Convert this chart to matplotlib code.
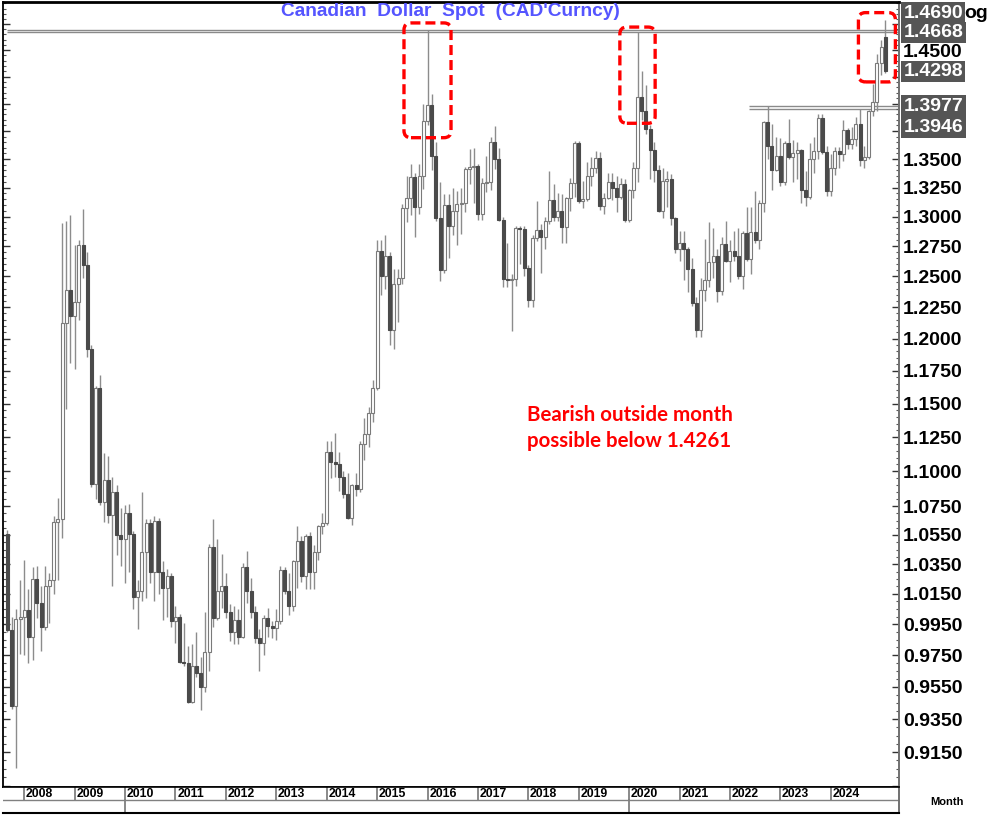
import matplotlib
matplotlib.use("Agg")
import matplotlib.pyplot as plt
from matplotlib.patches import FancyBboxPatch
from matplotlib.transforms import IdentityTransform, blended_transform_factory
from matplotlib.ticker import FixedLocator, NullFormatter
import numpy as np
import pandas as pd

plt.rcParams['font.family'] = ['Liberation Sans', 'DejaVu Sans']

# ---------------- data: USD/CAD monthly candles, Sep 2007 .. Feb 2025 ----------------
months = pd.date_range("2007-09-01", "2025-02-01", freq="MS")

opens = [
    1.0555, 0.9915, 0.9430, 0.9985,                                                        # 2007
    1.0000, 1.0045, 0.9865, 1.0250, 1.0090, 0.9935, 1.0200, 1.0245, 1.0640, 1.0660, 1.2120, 1.2390,  # 2008
    1.2180, 1.2290, 1.2760, 1.2590, 1.1920, 1.0910, 1.1620, 1.0780, 1.0940, 1.0690, 1.0850, 1.0550,  # 2009
    1.0520, 1.0700, 1.0560, 1.0130, 1.0170, 1.0430, 1.0630, 1.0300, 1.0650, 1.0300, 1.0190, 1.0270,  # 2010
    0.9970, 1.0000, 0.9710, 0.9700, 0.9455, 0.9680, 0.9640, 0.9550, 0.9770, 1.0470, 0.9990, 1.0170,  # 2011
    1.0200, 1.0030, 0.9900, 0.9980, 0.9870, 1.0330, 1.0170, 1.0030, 0.9860, 0.9830, 0.9990, 0.9940,  # 2012
    0.9925, 0.9970, 1.0310, 1.0170, 1.0070, 1.0370, 1.0510, 1.0270, 1.0540, 1.0300, 1.0430, 1.0610,  # 2013
    1.0630, 1.1140, 1.1070, 1.1050, 1.0960, 1.0840, 1.0670, 1.0900, 1.0870, 1.1200, 1.1270, 1.1430,  # 2014
    1.1620, 1.2710, 1.2500, 1.2670, 1.2070, 1.2440, 1.2490, 1.3070, 1.3160, 1.3340, 1.3080, 1.3350,  # 2015
    1.3840, 1.3990, 1.3530, 1.2990, 1.2550, 1.3100, 1.2920, 1.3050, 1.3110, 1.3120, 1.3410, 1.3430,  # 2016
    1.3440, 1.3020, 1.3290, 1.3300, 1.3650, 1.3500, 1.2970, 1.2480, 1.2470, 1.2480, 1.2900, 1.2895,  # 2017
    1.2570, 1.2310, 1.2820, 1.2890, 1.2830, 1.2960, 1.3140, 1.3000, 1.3050, 1.2910, 1.3160, 1.3290,  # 2018
    1.3640, 1.3130, 1.3150, 1.3350, 1.3420, 1.3510, 1.3090, 1.3160, 1.3300, 1.3250, 1.3170, 1.3280,  # 2019
    1.2970, 1.3230, 1.3420, 1.4060, 1.3930, 1.3770, 1.3580, 1.3400, 1.3050, 1.3310, 1.3320, 1.2990,  # 2020
    1.2730, 1.2780, 1.2730, 1.2560, 1.2280, 1.2070, 1.2390, 1.2470, 1.2620, 1.2670, 1.2380, 1.2770,  # 2021
    1.2630, 1.2710, 1.2670, 1.2500, 1.2860, 1.2640, 1.2870, 1.2800, 1.3120, 1.3830, 1.3620, 1.3400,  # 2022
    1.3530, 1.3300, 1.3640, 1.3520, 1.3550, 1.3580, 1.3230, 1.3170, 1.3500, 1.3570, 1.3870, 1.3560,  # 2023
    1.3220, 1.3420, 1.3570, 1.3540, 1.3760, 1.3630, 1.3680, 1.3810, 1.3490, 1.3520, 1.3930, 1.4010,  # 2024
    1.4380, 1.4620,                                                                        # 2025
]
highs = [
    1.0585, 1.0000, 1.0050, 1.0240,
    1.0380, 1.0184, 1.0330, 1.0340, 1.0200, 1.0340, 1.0290, 1.0680, 1.0810, 1.2945, 1.2960, 1.3017,
    1.2760, 1.2800, 1.3066, 1.2700, 1.1950, 1.1630, 1.1720, 1.1130, 1.1110, 1.0960, 1.0900, 1.0740,
    1.0760, 1.0770, 1.0580, 1.0240, 1.0855, 1.0660, 1.0660, 1.0680, 1.0670, 1.0370, 1.0320, 1.0290,
    1.0070, 1.0020, 0.9960, 0.9810, 0.9820, 0.9900, 0.9740, 1.0030, 1.0490, 1.0660, 1.0520, 1.0420,
    1.0290, 1.0080, 1.0070, 1.0050, 1.0360, 1.0440, 1.0260, 1.0070, 0.9920, 1.0010, 1.0060, 0.9970,
    1.0050, 1.0340, 1.0330, 1.0290, 1.0380, 1.0610, 1.0540, 1.0560, 1.0570, 1.0480, 1.0620, 1.0700,
    1.1220, 1.1220, 1.1280, 1.1140, 1.1000, 1.0990, 1.0910, 1.0990, 1.1220, 1.1390, 1.1470, 1.1680,
    1.2800, 1.2800, 1.2840, 1.2700, 1.2560, 1.2560, 1.3110, 1.3350, 1.3460, 1.3380, 1.3460, 1.4000,
    1.4690, 1.4090, 1.3650, 1.3300, 1.3190, 1.3190, 1.3250, 1.3220, 1.3250, 1.3430, 1.3590, 1.3600,
    1.3460, 1.3330, 1.3530, 1.3700, 1.3793, 1.3600, 1.3000, 1.2780, 1.2520, 1.2920, 1.2920, 1.2920,
    1.2590, 1.2840, 1.3130, 1.2940, 1.3000, 1.3390, 1.3280, 1.3200, 1.3190, 1.3170, 1.3330, 1.3660,
    1.3660, 1.3310, 1.3470, 1.3520, 1.3570, 1.3560, 1.3200, 1.3380, 1.3380, 1.3350, 1.3330, 1.3320,
    1.3240, 1.3470, 1.4668, 1.4300, 1.4170, 1.3800, 1.3650, 1.3450, 1.3420, 1.3390, 1.3370, 1.3000,
    1.2880, 1.2880, 1.2740, 1.2650, 1.2330, 1.2490, 1.2810, 1.2950, 1.2900, 1.2730, 1.2830, 1.2960,
    1.2800, 1.2880, 1.2900, 1.2880, 1.3080, 1.3080, 1.3220, 1.3140, 1.3840, 1.3977, 1.3810, 1.3700,
    1.3690, 1.3660, 1.3860, 1.3670, 1.3650, 1.3590, 1.3390, 1.3640, 1.3700, 1.3900, 1.3900, 1.3620,
    1.3540, 1.3610, 1.3610, 1.3850, 1.3780, 1.3790, 1.3880, 1.3946, 1.3620, 1.3940, 1.4180, 1.4467,
    1.4600, 1.4793,
]
lows = [
    0.9900, 0.9410, 0.9056, 0.9760,
    0.9750, 0.9700, 0.9720, 0.9990, 0.9780, 0.9910, 0.9960, 1.0150, 1.0240, 1.0530, 1.1460, 1.1810,
    1.1760, 1.2150, 1.2490, 1.1860, 1.0890, 1.0800, 1.0760, 1.0640, 1.0630, 1.0206, 1.0410, 1.0340,
    1.0220, 1.0300, 1.0050, 0.9920, 1.0100, 1.0120, 1.0220, 1.0100, 1.0150, 0.9980, 1.0000, 0.9930,
    0.9830, 0.9700, 0.9680, 0.9450, 0.9450, 0.9610, 0.9405, 0.9520, 0.9650, 0.9930, 0.9980, 1.0060,
    0.9990, 0.9840, 0.9820, 0.9820, 0.9860, 1.0090, 0.9990, 0.9830, 0.9650, 0.9750, 0.9870, 0.9860,
    0.9850, 0.9950, 1.0150, 1.0010, 1.0040, 1.0190, 1.0230, 1.0180, 1.0180, 1.0180, 1.0380, 1.0560,
    1.0620, 1.0950, 1.0960, 1.0860, 1.0810, 1.0660, 1.0620, 1.0820, 1.0850, 1.1080, 1.1180, 1.1360,
    1.1600, 1.2350, 1.2400, 1.1950, 1.1920, 1.2130, 1.2440, 1.2950, 1.3010, 1.2830, 1.3020, 1.3240,
    1.3800, 1.3400, 1.2960, 1.2460, 1.2530, 1.2650, 1.2840, 1.2760, 1.2850, 1.3040, 1.3280, 1.3120,
    1.2970, 1.2970, 1.3210, 1.3230, 1.3410, 1.2960, 1.2410, 1.2410, 1.2061, 1.2420, 1.2600, 1.2500,
    1.2250, 1.2250, 1.2790, 1.2530, 1.2730, 1.2940, 1.2960, 1.2960, 1.2780, 1.2780, 1.3050, 1.3170,
    1.3120, 1.3070, 1.3130, 1.3260, 1.3380, 1.3060, 1.3020, 1.3150, 1.3140, 1.3040, 1.3150, 1.2950,
    1.2950, 1.3160, 1.3300, 1.3850, 1.3720, 1.3320, 1.3300, 1.3040, 1.2990, 1.3080, 1.2930, 1.2690,
    1.2630, 1.2470, 1.2370, 1.2260, 1.2010, 1.2010, 1.2300, 1.2410, 1.2490, 1.2290, 1.2350, 1.2620,
    1.2450, 1.2630, 1.2480, 1.2400, 1.2630, 1.2520, 1.2780, 1.2730, 1.3040, 1.3500, 1.3230, 1.3390,
    1.3260, 1.3270, 1.3500, 1.3300, 1.3320, 1.3120, 1.3090, 1.3150, 1.3380, 1.3500, 1.3540, 1.3180,
    1.3180, 1.3360, 1.3420, 1.3480, 1.3590, 1.3590, 1.3620, 1.3440, 1.3420, 1.3500, 1.3890, 1.3930,
    1.4261, 1.4280,
]
closes = [
    0.9915, 0.9430, 0.9985, 1.0000,
    1.0045, 0.9865, 1.0250, 1.0090, 0.9935, 1.0200, 1.0245, 1.0640, 1.0660, 1.2120, 1.2390, 1.2180,
    1.2290, 1.2760, 1.2590, 1.1920, 1.0910, 1.1620, 1.0780, 1.0940, 1.0690, 1.0850, 1.0550, 1.0520,
    1.0700, 1.0560, 1.0130, 1.0170, 1.0430, 1.0630, 1.0300, 1.0650, 1.0300, 1.0190, 1.0270, 0.9970,
    1.0000, 0.9710, 0.9700, 0.9455, 0.9680, 0.9640, 0.9550, 0.9770, 1.0470, 0.9990, 1.0170, 1.0200,
    1.0030, 0.9900, 0.9980, 0.9870, 1.0330, 1.0170, 1.0030, 0.9860, 0.9830, 0.9990, 0.9940, 0.9925,
    0.9970, 1.0310, 1.0170, 1.0070, 1.0370, 1.0510, 1.0270, 1.0540, 1.0300, 1.0430, 1.0610, 1.0630,
    1.1140, 1.1070, 1.1050, 1.0960, 1.0840, 1.0670, 1.0900, 1.0870, 1.1200, 1.1270, 1.1430, 1.1620,
    1.2710, 1.2500, 1.2670, 1.2070, 1.2440, 1.2490, 1.3070, 1.3160, 1.3340, 1.3080, 1.3350, 1.3840,
    1.3990, 1.3530, 1.2990, 1.2550, 1.3100, 1.2920, 1.3050, 1.3110, 1.3120, 1.3410, 1.3430, 1.3440,
    1.3020, 1.3290, 1.3300, 1.3650, 1.3500, 1.2970, 1.2480, 1.2470, 1.2480, 1.2900, 1.2895, 1.2570,
    1.2310, 1.2820, 1.2890, 1.2830, 1.2960, 1.3140, 1.3000, 1.3050, 1.2910, 1.3160, 1.3290, 1.3640,
    1.3130, 1.3150, 1.3350, 1.3420, 1.3510, 1.3090, 1.3160, 1.3300, 1.3250, 1.3170, 1.3280, 1.2970,
    1.3230, 1.3420, 1.4060, 1.3930, 1.3770, 1.3580, 1.3400, 1.3050, 1.3310, 1.3320, 1.2990, 1.2730,
    1.2780, 1.2730, 1.2560, 1.2280, 1.2070, 1.2390, 1.2470, 1.2620, 1.2670, 1.2380, 1.2770, 1.2630,
    1.2710, 1.2670, 1.2500, 1.2860, 1.2640, 1.2870, 1.2800, 1.3120, 1.3830, 1.3620, 1.3400, 1.3530,
    1.3300, 1.3640, 1.3520, 1.3550, 1.3580, 1.3230, 1.3170, 1.3500, 1.3570, 1.3870, 1.3560, 1.3220,
    1.3420, 1.3570, 1.3540, 1.3760, 1.3630, 1.3680, 1.3810, 1.3490, 1.3520, 1.3930, 1.4010, 1.4380,
    1.4530, 1.4298,
]

# right-axis ticks / labels
tick_values = [1.475, 1.45, 1.425, 1.40, 1.375, 1.35, 1.325, 1.30, 1.275, 1.25, 1.225, 1.20,
               1.175, 1.15, 1.125, 1.10, 1.075, 1.055, 1.035, 1.015, 0.995, 0.975, 0.955,
               0.935, 0.915, 0.895]
labelled_values = [1.45, 1.35, 1.325, 1.30, 1.275, 1.25, 1.225, 1.20, 1.175, 1.15, 1.125,
                   1.10, 1.075, 1.055, 1.035, 1.015, 0.995, 0.975, 0.955, 0.935, 0.915]

# highlighted levels (value, vertical shift of its tag in px)
level_values = [1.4690, 1.4668, 1.4298, 1.3977, 1.3946]
level_tag_shift = [17, 0, 0, 0, -18]
long_lines = [1.4690, 1.4668]      # 2016 / 2020 highs
short_lines = [1.3977, 1.3946]     # Oct-2022 / Aug-2024 highs
short_line_start = pd.Timestamp("2022-05-01")

# highlighted candle groups (centre month, half width in months, top, bottom)
box_centres = ["2016-01-01", "2020-03-01", "2024-12-01"]
box_half = [5.6, 4.2, 4.4]
box_top = [1.476, 1.472, 1.486]
box_bottom = [1.369, 1.382, 1.420]

title = "Canadian  Dollar  Spot  (CAD'Curncy)"
note = "Bearish outside month\npossible below 1.4261"

# ---------------- figure ----------------
W, H = 990, 815
fig = plt.figure(figsize=(W / 100, H / 100), dpi=100)
ax = fig.add_axes([3 / W, 28 / H, 896 / W, 785 / H])

idx = np.arange(len(months))
o = np.array(opens); h = np.array(highs); l = np.array(lows); c = np.array(closes)
up = c >= o

ax.set_yscale('log')
ax.set_ylim(0.8943, 1.4964)
ax.set_xlim(-1.07, 212.26)

ax.vlines(idx, l, h, color='#8c8c8c', lw=1.0, zorder=2)
ax.bar(idx[up], (c - o)[up], bottom=o[up], width=0.72, color='white',
       edgecolor='#7a7a7a', linewidth=0.8, zorder=3)
ax.bar(idx[~up], (o - c)[~up], bottom=c[~up], width=0.72, color='#4a4a4a',
       edgecolor='#4a4a4a', linewidth=0.8, zorder=3)

xr = ax.get_xlim()[1]
ax.hlines(long_lines, -0.2, xr, color='#8a8a8a', lw=1.0, zorder=1)
s_idx = months.get_loc(short_line_start) + 0.6
ax.hlines(short_lines, s_idx, xr, color='#8a8a8a', lw=1.0, zorder=1)

# axes styling
ax.set_xticks([])
ax.yaxis.set_major_locator(FixedLocator(tick_values))
ax.set_yticklabels([f"{v:.4f}" if v in labelled_values else "" for v in tick_values])
minor_vals = [round(v, 3) for v in np.arange(0.895, 1.4951, 0.005)]
ax.yaxis.set_minor_locator(FixedLocator(minor_vals))
ax.yaxis.set_minor_formatter(NullFormatter())
ax.tick_params(axis='y', which='major', left=True, right=True, labelleft=False,
               labelright=True, direction='in', length=5, width=1, color='#333333',
               pad=3, labelsize=14)
ax.tick_params(axis='y', which='minor', left=True, right=True, direction='in',
               length=2, width=0.8, color='#555555')
for lab in ax.get_yticklabels():
    lab.set_fontweight('bold')
for side, col, lw in [('left', 'black', 1.3), ('top', 'black', 2.0),
                      ('right', '#707070', 1.4), ('bottom', 'black', 1.2)]:
    ax.spines[side].set_color(col)
    ax.spines[side].set_linewidth(lw)

# level tags
tr = blended_transform_factory(ax.transAxes, ax.transData)
for v, sh in zip(level_values, level_tag_shift):
    ax.annotate(f"{v:.4f}", xy=(1, v), xycoords=tr, xytext=(3.2, sh * 0.72),
                textcoords='offset points', ha='left', va='center', color='white',
                fontsize=14, fontweight='bold', annotation_clip=False, zorder=10,
                bbox=dict(boxstyle='square,pad=0.12', fc='#555555', ec='none'))
fig.text(964 / W, 1 - 13 / H, "og", ha='left', va='center', fontsize=14,
         fontweight='bold', color='black')

# red dashed boxes
for cm, hw, tp, bt in zip(box_centres, box_half, box_top, box_bottom):
    ci = months.get_loc(pd.Timestamp(cm))
    x0, y0 = ax.transData.transform((ci - hw, bt))
    x1, y1 = ax.transData.transform((ci + hw, tp))
    p = FancyBboxPatch((x0, y0), x1 - x0, y1 - y0,
                       boxstyle='round,pad=0,rounding_size=7', fill=False,
                       ec='#ff0000', lw=2.4, ls=(0, (3.0, 1.5)),
                       transform=IdentityTransform(), zorder=20)
    fig.add_artist(p)

# title and note
fig.text(450 / W, 1 - 12 / H, title, ha='center', va='center', fontsize=13.8,
         fontweight='bold', color='#5555ff')
fig.text(527 / W, 1 - 428 / H, note, ha='left', va='center', fontsize=14.8,
         fontweight='bold', color='#ff0000', family=['Lato', 'DejaVu Sans'],
         linespacing=1.35)

# date band
bx = fig.add_axes([3 / W, 2 / H, 896 / W, 26 / H])
bx.set_xlim(ax.get_xlim())
bx.set_ylim(0, 2)
bx.set_xticks([]); bx.set_yticks([])
bx.axhline(1, color='#808080', lw=1.0)
for yr in range(2008, 2025):
    j = months.get_loc(pd.Timestamp(f"{yr}-01-01"))
    bx.plot([j, j], [1, 2], color='#808080', lw=1.3)
    bx.text(j + 0.4, 1.47, str(yr), ha='left', va='center', fontsize=8.8,
            fontweight='bold')
    if yr % 10 == 0:
        bx.plot([j, j], [0, 1], color='#808080', lw=1.3)
for side, col, lw in [('left', 'white', 0), ('top', 'black', 1.2),
                      ('right', '#707070', 1.4), ('bottom', 'black', 1.5)]:
    bx.spines[side].set_color(col)
    bx.spines[side].set_linewidth(lw)
fig.text(947 / W, 1 - 802 / H, "Month", ha='center', va='center', fontsize=8,
         fontweight='bold')

fig.savefig("out.png", dpi=100)
